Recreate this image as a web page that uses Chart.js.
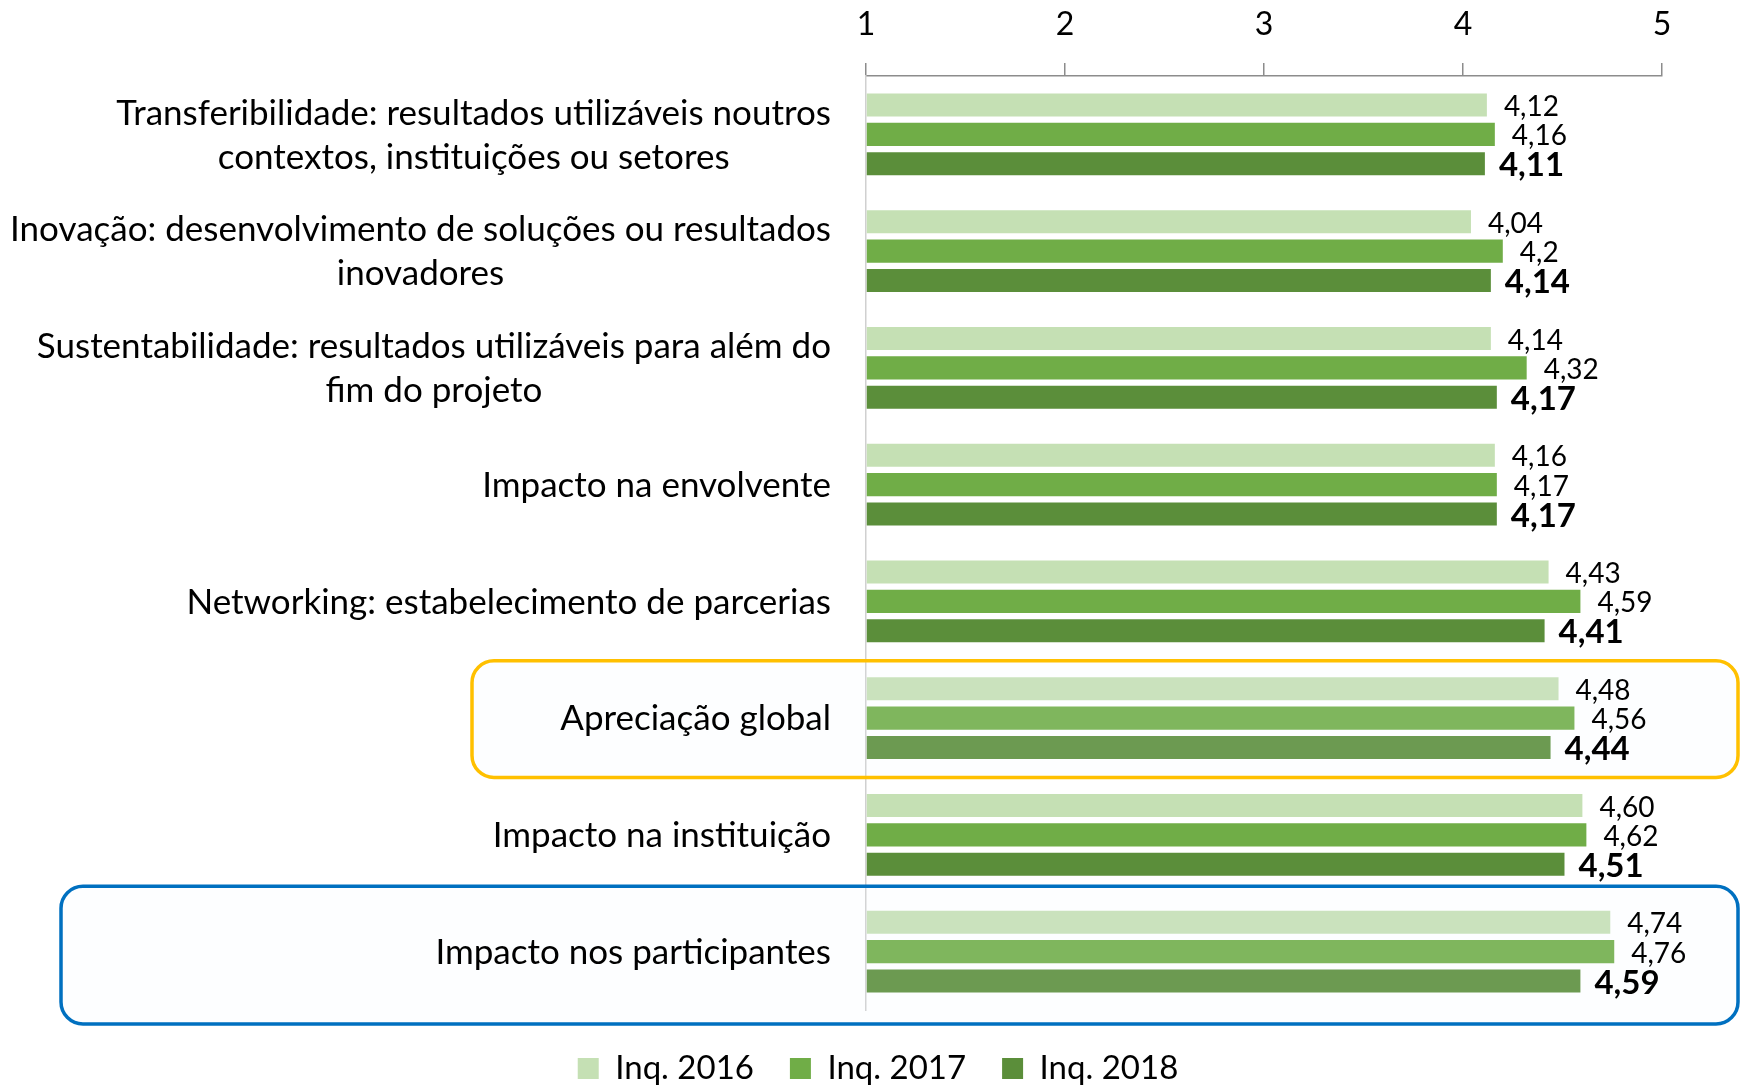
<!DOCTYPE html>
<html><head><meta charset="utf-8">
<script src="https://cdn.jsdelivr.net/npm/chart.js@4.4.0/dist/chart.umd.min.js"></script>
<style>html,body{margin:0;padding:0;background:#fff;overflow:hidden}#wrap{width:1741px;height:1086px;position:relative}</style>
</head><body><div id="wrap"><canvas id="c" width="1741" height="1086"></canvas></div>
<script>
// ---- data ----
const categories = [
  ["Transferibilidade: resultados utilizáveis noutros", "contextos, instituições ou setores"],
  ["Inovação: desenvolvimento de soluções ou resultados", "inovadores"],
  ["Sustentabilidade: resultados utilizáveis para além do", "fim do projeto"],
  "Impacto na envolvente",
  "Networking: estabelecimento de parcerias",
  "Apreciação global",
  "Impacto na instituição",
  "Impacto nos participantes"
];
const seriesNames = ["Inq. 2016", "Inq. 2017", "Inq. 2018"];
const values2016 = [4.12, 4.04, 4.14, 4.16, 4.43, 4.48, 4.60, 4.74];
const values2017 = [4.16, 4.20, 4.32, 4.17, 4.59, 4.56, 4.62, 4.76];
const values2018 = [4.11, 4.14, 4.17, 4.17, 4.41, 4.44, 4.51, 4.59];
const labels2016 = ["4,12", "4,04", "4,14", "4,16", "4,43", "4,48", "4,60", "4,74"];
const labels2017 = ["4,16", "4,2", "4,32", "4,17", "4,59", "4,56", "4,62", "4,76"];
const labels2018 = ["4,11", "4,14", "4,17", "4,17", "4,41", "4,44", "4,51", "4,59"];
const axisMin = 1, axisMax = 5, axisStep = 1;
const highlightYellow = 5;  // "Apreciação global"
const highlightBlue = 7;    // "Impacto nos participantes"

// ---- styles ----
const FONT = "Lato, 'Open Sans', sans-serif";
const colors = ["#C5E0B4", "#70AD47", "#5B8E3A"];
const valueLabels = [labels2016, labels2017, labels2018];
const PAD_LEFT = 94, PLOT_LEFT = 866;

const boxPlugin = {
  id: 'boxes',
  afterDatasetsDraw(chart) {
    const ctx = chart.ctx, y = chart.scales.y;
    const band = (y.getPixelForValue(1) - y.getPixelForValue(0));
    const boxes = [
      {i: highlightYellow, x0: 472, x1: 1738, extTop: -1, extBot: 1, color: "#FFC000"},
      {i: highlightBlue, x0: 61, x1: 1738, extTop: 7, extBot: 14, color: "#0070C0"}
    ];
    boxes.forEach(b => {
      const cy = y.getPixelForValue(b.i);
      const top = cy - band / 2 - b.extTop, bot = cy + band / 2 + b.extBot;
      ctx.save();
      ctx.beginPath();
      ctx.roundRect(b.x0, top, b.x1 - b.x0, bot - top, 22);
      ctx.fillStyle = "rgba(240,245,252,0.12)";
      ctx.fill();
      ctx.lineWidth = 3.5;
      ctx.strokeStyle = b.color;
      ctx.stroke();
      ctx.restore();
    });
  }
};

const textPlugin = {
  id: 'texts',
  afterDraw(chart) {
    const ctx = chart.ctx, y = chart.scales.y;
    ctx.save();
    // category labels
    ctx.font = "35px " + FONT;
    ctx.fillStyle = "#000";
    ctx.textBaseline = "middle";
    ctx.textAlign = "center";
    const xRight = 831, lh = 44;
    categories.forEach((lab, i) => {
      const lines = Array.isArray(lab) ? lab : [lab];
      const w1 = ctx.measureText(lines[0]).width;
      const cx = xRight - w1 / 2;
      const cy = y.getPixelForValue(i);
      lines.forEach((ln, k) => {
        ctx.fillText(ln, cx, cy + (k - (lines.length - 1) / 2) * lh + 1);
      });
    });
    // value labels
    ctx.textAlign = "left";
    chart.data.datasets.forEach((ds, di) => {
      const meta = chart.getDatasetMeta(di);
      ctx.font = di === 2 ? "bold 33px " + FONT : "28px " + FONT;
      const off = di === 2 ? 14 : 17;
      meta.data.forEach((el, j) => {
        ctx.fillText(valueLabels[di][j], el.x + off, el.y + 2);
      });
    });
    ctx.restore();
  }
};

function make() {
  new Chart(document.getElementById('c'), {
    type: 'bar',
    data: {
      labels: categories,
      datasets: [
        {label: seriesNames[0], data: values2016, backgroundColor: colors[0]},
        {label: seriesNames[1], data: values2017, backgroundColor: colors[1]},
        {label: seriesNames[2], data: values2018, backgroundColor: colors[2]}
      ]
    },
    options: {
      indexAxis: 'y',
      responsive: false,
      animation: false,
      devicePixelRatio: 1,
      datasets: {bar: {base: axisMin, categoryPercentage: 0.754, barPercentage: 0.785, borderWidth: 0}},
      layout: {padding: {left: PAD_LEFT, right: 79, top: 0, bottom: -9}},
      plugins: {
        tooltip: {enabled: false},
        legend: {
          position: 'bottom',
          title: {display: true, text: '', font: {size: 4, lineHeight: 1}, padding: {top: 1, bottom: 1}},
          labels: {
            boxWidth: 21, boxHeight: 21, padding: 36,
            color: "#000",
            font: {family: FONT, size: 33}
          }
        }
      },
      scales: {
        x: {
          position: 'top',
          min: axisMin, max: axisMax,
          ticks: {stepSize: axisStep, color: "#000", padding: 19, font: {family: FONT, size: 32}},
          grid: {drawOnChartArea: false, drawTicks: true, tickLength: 13, color: "#8C8C8C", lineWidth: 1.5},
          border: {display: true, color: "#8C8C8C", width: 1.5},
          afterFit(s) { s.height = 76; }
        },
        y: {
          ticks: {display: false},
          grid: {display: true, drawOnChartArea: false, drawTicks: false},
          border: {display: true, color: "#D0D0D0", width: 1.5},
          afterFit(s) { s.width = PLOT_LEFT - PAD_LEFT; }
        }
      }
    },
    plugins: [boxPlugin, textPlugin]
  });
}
Promise.all([
  document.fonts.load("35px Lato"),
  document.fonts.load("bold 33px Lato"),
  document.fonts.load("28px Lato")
]).then(make, make);
</script>
</body></html>
